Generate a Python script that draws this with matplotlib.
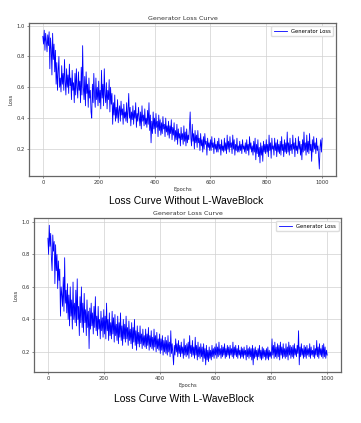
import numpy as np
import matplotlib.pyplot as plt

epochs = np.linspace(0, 1000, 401)

loss_without = [
    0.93, 0.88, 0.97, 0.84, 0.95, 0.90, 0.83, 0.94, 0.87, 0.96,
    0.72, 0.92, 0.85, 0.68, 0.95, 0.78, 0.88, 0.70, 0.84, 0.62,
    0.76, 0.58, 0.70, 0.80, 0.60, 0.66, 0.57, 0.74, 0.62, 0.69,
    0.58, 0.78, 0.64, 0.55, 0.72, 0.60, 0.68, 0.56, 0.75, 0.61,
    0.66, 0.52, 0.71, 0.58, 0.63, 0.50, 0.69, 0.55, 0.72, 0.60,
    0.53, 0.70, 0.58, 0.64, 0.50, 0.73, 0.55, 0.87, 0.60, 0.52,
    0.67, 0.48, 0.70, 0.56, 0.62, 0.47, 0.66, 0.53, 0.58, 0.44,
    0.40, 0.62, 0.50, 0.69, 0.55, 0.47, 0.66, 0.52, 0.60, 0.48,
    0.64, 0.50, 0.58, 0.46, 0.71, 0.53, 0.62, 0.48, 0.72, 0.55,
    0.50, 0.63, 0.46, 0.58, 0.52, 0.65, 0.44, 0.60, 0.49, 0.56,
    0.36, 0.50, 0.42, 0.55, 0.38, 0.47, 0.40, 0.52, 0.37, 0.45,
    0.48, 0.38, 0.51, 0.42, 0.46, 0.36, 0.49, 0.40, 0.44, 0.38,
    0.50, 0.37, 0.45, 0.56, 0.40, 0.47, 0.35, 0.44, 0.39, 0.48,
    0.36, 0.45, 0.40, 0.50, 0.34, 0.43, 0.38, 0.47, 0.41, 0.35,
    0.44, 0.33, 0.48, 0.38, 0.42, 0.35, 0.46, 0.36, 0.40, 0.34,
    0.45, 0.36, 0.50, 0.32, 0.42, 0.24, 0.38, 0.30, 0.44, 0.33,
    0.40, 0.30, 0.43, 0.34, 0.38, 0.28, 0.42, 0.32, 0.39, 0.29,
    0.37, 0.30, 0.41, 0.33, 0.36, 0.28, 0.40, 0.31, 0.35, 0.29,
    0.38, 0.27, 0.35, 0.30, 0.39, 0.26, 0.34, 0.29, 0.37, 0.25,
    0.32, 0.26, 0.36, 0.23, 0.33, 0.27, 0.30, 0.22, 0.34, 0.26,
    0.30, 0.23, 0.35, 0.25, 0.31, 0.22, 0.33, 0.24, 0.29, 0.26,
    0.34, 0.44, 0.27, 0.22, 0.36, 0.25, 0.30, 0.20, 0.32, 0.24,
    0.29, 0.21, 0.32, 0.24, 0.27, 0.19, 0.30, 0.22, 0.26, 0.18,
    0.28, 0.20, 0.30, 0.23, 0.25, 0.16, 0.27, 0.21, 0.24, 0.19,
    0.26, 0.19, 0.28, 0.21, 0.24, 0.17, 0.27, 0.20, 0.23, 0.18,
    0.25, 0.18, 0.27, 0.20, 0.23, 0.16, 0.26, 0.19, 0.22, 0.18,
    0.27, 0.19, 0.24, 0.17, 0.29, 0.20, 0.25, 0.18, 0.28, 0.21,
    0.24, 0.17, 0.29, 0.20, 0.26, 0.16, 0.23, 0.19, 0.27, 0.18,
    0.22, 0.18, 0.25, 0.19, 0.23, 0.17, 0.26, 0.20, 0.22, 0.18,
    0.24, 0.17, 0.26, 0.19, 0.23, 0.16, 0.28, 0.20, 0.24, 0.18,
    0.22, 0.16, 0.25, 0.18, 0.27, 0.13, 0.23, 0.17, 0.26, 0.15,
    0.21, 0.11, 0.24, 0.16, 0.22, 0.12, 0.25, 0.18, 0.23, 0.17,
    0.26, 0.18, 0.23, 0.15, 0.29, 0.19, 0.24, 0.14, 0.27, 0.20,
    0.22, 0.16, 0.27, 0.19, 0.24, 0.15, 0.26, 0.18, 0.23, 0.17,
    0.25, 0.16, 0.28, 0.19, 0.23, 0.15, 0.26, 0.18, 0.24, 0.17,
    0.31, 0.18, 0.24, 0.16, 0.27, 0.19, 0.23, 0.17, 0.29, 0.20,
    0.24, 0.15, 0.27, 0.19, 0.22, 0.17, 0.28, 0.20, 0.25, 0.16,
    0.23, 0.13, 0.26, 0.18, 0.31, 0.19, 0.24, 0.16, 0.29, 0.18,
    0.25, 0.17, 0.30, 0.19, 0.23, 0.12, 0.26, 0.18, 0.28, 0.20,
    0.24, 0.17, 0.27, 0.19, 0.22, 0.15, 0.07, 0.21, 0.26, 0.18,
    0.27,
]

loss_with = [
    0.90, 0.80, 0.98, 0.85, 0.93, 0.78, 0.70, 0.92, 0.82, 0.88,
    0.62, 0.86, 0.70, 0.80, 0.59, 0.76, 0.64, 0.71, 0.42, 0.60,
    0.55, 0.48, 0.66, 0.45, 0.78, 0.50, 0.58, 0.44, 0.62, 0.40,
    0.55, 0.36, 0.60, 0.42, 0.52, 0.34, 0.63, 0.40, 0.50, 0.38,
    0.58, 0.36, 0.65, 0.40, 0.48, 0.30, 0.54, 0.38, 0.60, 0.35,
    0.50, 0.32, 0.56, 0.38, 0.46, 0.30, 0.52, 0.35, 0.45, 0.22,
    0.47, 0.34, 0.50, 0.36, 0.44, 0.31, 0.48, 0.35, 0.54, 0.33,
    0.42, 0.30, 0.48, 0.34, 0.40, 0.28, 0.45, 0.33, 0.41, 0.29,
    0.46, 0.31, 0.42, 0.28, 0.50, 0.33, 0.40, 0.27, 0.44, 0.30,
    0.38, 0.28, 0.45, 0.31, 0.41, 0.26, 0.43, 0.30, 0.37, 0.27,
    0.42, 0.25, 0.38, 0.29, 0.44, 0.27, 0.36, 0.24, 0.40, 0.28,
    0.37, 0.26, 0.42, 0.28, 0.35, 0.24, 0.39, 0.27, 0.34, 0.25,
    0.38, 0.22, 0.35, 0.26, 0.40, 0.24, 0.33, 0.21, 0.36, 0.25,
    0.32, 0.23, 0.36, 0.25, 0.31, 0.22, 0.34, 0.24, 0.30, 0.23,
    0.34, 0.22, 0.31, 0.24, 0.35, 0.21, 0.30, 0.23, 0.33, 0.22,
    0.29, 0.21, 0.34, 0.23, 0.30, 0.20, 0.32, 0.22, 0.28, 0.21,
    0.31, 0.19, 0.28, 0.21, 0.30, 0.18, 0.27, 0.20, 0.29, 0.19,
    0.27, 0.18, 0.30, 0.20, 0.26, 0.17, 0.33, 0.19, 0.25, 0.18,
    0.12, 0.24, 0.18, 0.28, 0.20, 0.25, 0.17, 0.27, 0.19, 0.24,
    0.17, 0.26, 0.19, 0.23, 0.16, 0.28, 0.18, 0.24, 0.17, 0.25,
    0.18, 0.26, 0.16, 0.30, 0.19, 0.24, 0.17, 0.27, 0.18, 0.23,
    0.16, 0.29, 0.18, 0.24, 0.15, 0.26, 0.17, 0.23, 0.16, 0.25,
    0.17, 0.23, 0.14, 0.25, 0.16, 0.22, 0.12, 0.24, 0.15, 0.21,
    0.14, 0.23, 0.16, 0.21, 0.15, 0.24, 0.17, 0.22, 0.16, 0.23,
    0.18, 0.25, 0.16, 0.23, 0.17, 0.26, 0.18, 0.22, 0.16, 0.24,
    0.17, 0.23, 0.18, 0.25, 0.16, 0.22, 0.17, 0.24, 0.18, 0.23,
    0.16, 0.24, 0.18, 0.22, 0.17, 0.26, 0.16, 0.23, 0.18, 0.24,
    0.17, 0.22, 0.16, 0.24, 0.18, 0.21, 0.16, 0.23, 0.17, 0.22,
    0.16, 0.23, 0.18, 0.21, 0.15, 0.24, 0.17, 0.22, 0.16, 0.23,
    0.17, 0.22, 0.15, 0.24, 0.12, 0.22, 0.16, 0.23, 0.17, 0.21,
    0.15, 0.22, 0.17, 0.24, 0.16, 0.21, 0.15, 0.23, 0.16, 0.22,
    0.17, 0.21, 0.15, 0.22, 0.16, 0.23, 0.15, 0.21, 0.17, 0.20,
    0.16, 0.28, 0.18, 0.24, 0.16, 0.26, 0.17, 0.23, 0.16, 0.25,
    0.17, 0.24, 0.15, 0.26, 0.18, 0.23, 0.16, 0.25, 0.17, 0.22,
    0.16, 0.25, 0.17, 0.23, 0.15, 0.26, 0.18, 0.24, 0.16, 0.23,
    0.17, 0.24, 0.16, 0.25, 0.18, 0.22, 0.17, 0.24, 0.19, 0.33,
    0.12, 0.23, 0.17, 0.25, 0.18, 0.22, 0.16, 0.24, 0.17, 0.23,
    0.16, 0.24, 0.18, 0.22, 0.17, 0.25, 0.16, 0.23, 0.18, 0.21,
    0.17, 0.24, 0.16, 0.22, 0.18, 0.27, 0.17, 0.23, 0.16, 0.25,
    0.18, 0.22, 0.17, 0.24, 0.16, 0.25, 0.17, 0.23, 0.16, 0.21,
    0.18,
]

captions = ["Loss Curve Without L-WaveBlock", "Loss Curve With L-WaveBlock"]

fig = plt.figure(figsize=(3.61, 4.23), dpi=100)
ax1 = fig.add_axes([0.080, 0.584, 0.851, 0.361])
ax2 = fig.add_axes([0.094, 0.121, 0.851, 0.363])

for ax, loss in [(ax1, loss_without), (ax2, loss_with)]:
    ax.plot(epochs, loss, color='blue', lw=0.6, label='Generator Loss')
    ax.set_title('Generator Loss Curve', fontsize=4.6, pad=2, color='#333333')
    ax.set_xlabel('Epochs', fontsize=3.8, labelpad=1.5, color='#333333')
    ax.set_ylabel('Loss', fontsize=3.8, labelpad=2, color='#333333')
    ax.set_xticks([0, 200, 400, 600, 800, 1000])
    ax.set_yticks([0.2, 0.4, 0.6, 0.8, 1.0])
    ax.tick_params(labelsize=3.8, length=1.3, width=0.4, pad=1.5, colors='#333333')
    ax.grid(True, color='#d0d0d0', lw=0.5)
    for s in ax.spines.values():
        s.set_color('#666666')
        s.set_linewidth(0.9)
    ax.legend(loc='upper right', fontsize=3.8, handlelength=2.5, framealpha=1,
              edgecolor='#dddddd', borderpad=0.5)

fig.text(0.515, 0.525, captions[0], ha='center', va='center',
         fontsize=7.5, family='Liberation Sans')
fig.text(0.511, 0.057, captions[1], ha='center', va='center',
         fontsize=7.5, family='Liberation Sans')

plt.savefig('out.png', dpi=100)
